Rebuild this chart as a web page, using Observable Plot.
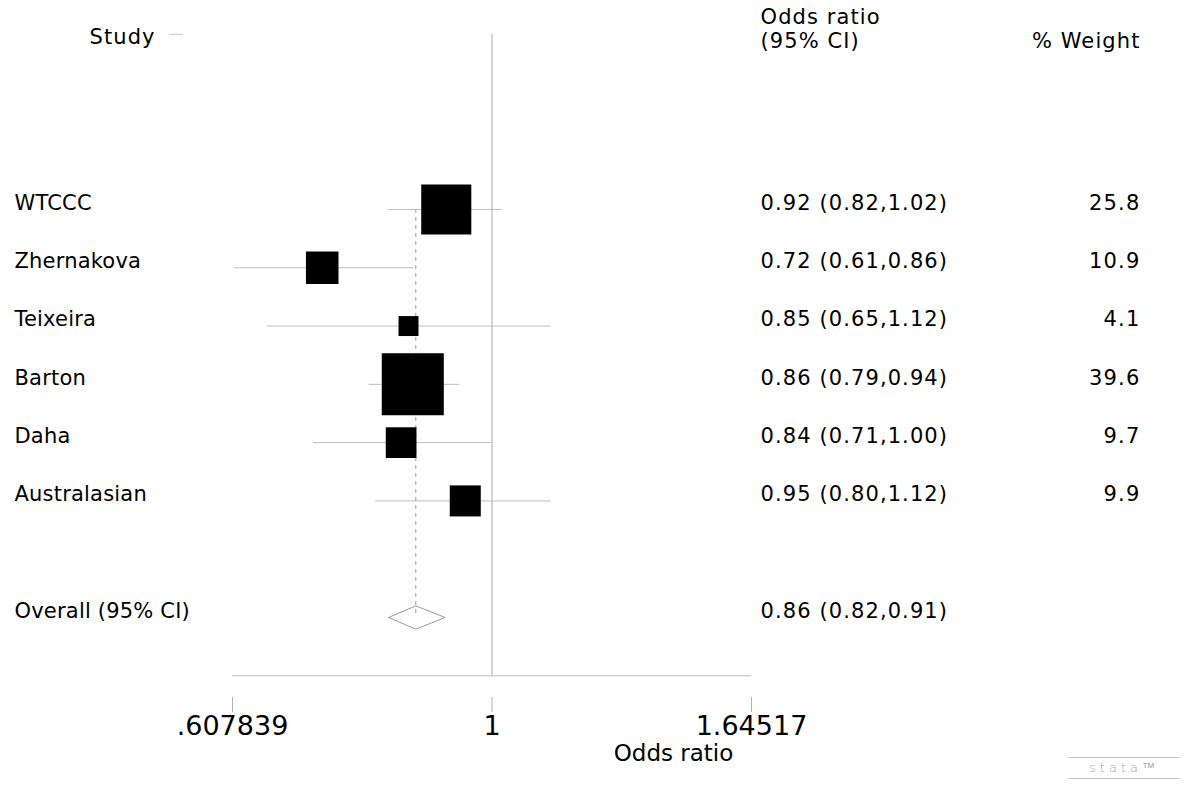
<!DOCTYPE html>
<html>
<head>
<meta charset="utf-8">
<script src="https://cdn.jsdelivr.net/npm/d3@7"></script>
<script src="https://cdn.jsdelivr.net/npm/@observablehq/plot@0.6"></script>
<style>
  html, body { margin: 0; padding: 0; background: #fff; }
  #wrap { position: relative; width: 1200px; height: 796px; font-family: "DejaVu Sans", sans-serif; }
  #logo { position: absolute; left: 1068px; top: 757px; width: 112px; height: 20px;
          border-top: 1px solid #c4c4c4; border-bottom: 1px solid #c4c4c4;
          color: #a8a8a8; font-size: 13px; line-height: 20px; text-align: center;
          letter-spacing: 4px; font-weight: 200; }
  g[aria-label="header"] text, .header text { letter-spacing: 1.1px; }
  g[aria-label="or-col"] text, .or-col text { letter-spacing: 1.1px; }
  g[aria-label="weight-col"] text, .weight-col text { letter-spacing: 1.2px; }
  g[aria-label="study-col"] text, .study-col text { letter-spacing: 0.2px; }
</style>
</head>
<body>
<div id="wrap"><div id="logo">stata™</div></div>
<script>
// ---- data ----
const studies = ["WTCCC", "Zhernakova", "Teixeira", "Barton", "Daha", "Australasian"];
const oddsRatio = [0.916, 0.722, 0.852, 0.859, 0.840, 0.950];
const ciLow  = [0.82, 0.61, 0.65, 0.79, 0.71, 0.80];
const ciHigh = [1.02, 0.86, 1.12, 0.94, 1.00, 1.12];
const weights = [25.8, 10.9, 4.1, 39.6, 9.7, 9.9];
const overallLabel = "Overall (95% CI)";
const overallOR = 0.864, overallLow = 0.82, overallHigh = 0.914;
const tickValues = [0.607839, 1, 1.64517];
const tickLabels = [".607839", "1", "1.64517"];
const xDomain = [0.607839, 1.64517];

// ---- build tables ----
const f2 = v => v.toFixed(2);
const rows = studies.map((s, i) => ({
  study: s, row: i + 1, or: oddsRatio[i], lo: ciLow[i], hi: ciHigh[i], w: weights[i],
  orText: `${f2(oddsRatio[i])} (${f2(ciLow[i])},${f2(ciHigh[i])})`,
  wText: weights[i].toFixed(1)
}));
const overallRow = studies.length + 2;
const overall = [{study: overallLabel, row: overallRow, or: overallOR, lo: overallLow, hi: overallHigh,
  orText: `${f2(overallOR)} (${f2(overallLow)},${f2(overallHigh)})`}];
const dh = 0.2; // half height of diamond in row units
const diamond = [
  {x: overallLow, y: overallRow}, {x: overallOR, y: overallRow - dh},
  {x: overallHigh, y: overallRow}, {x: overallOR, y: overallRow + dh},
  {x: overallLow, y: overallRow}
];
const headerRow = -2;
const axisRow = overallRow + 1;

const font = "DejaVu Sans, sans-serif";
const txt = {fontSize: 21, fill: "#000", lineAnchor: "middle"};
const rowDy = -6.5;

const chart = Plot.plot({
  width: 1200,
  height: 796,
  marginLeft: 232,
  marginRight: 449,
  marginTop: 34,
  marginBottom: 99,
  style: {fontFamily: font, background: "#fff", color: "#000", overflow: "visible"},
  x: {type: "log", domain: xDomain, range: [232, 751], axis: null},
  y: {domain: [headerRow, axisRow], range: [34.1, 675.3], axis: null},
  r: {type: "sqrt", domain: [0, d3.max(weights)], range: [0, 35]},
  marks: [
    // reference line at OR = 1
    Plot.ruleX([1], {y1: headerRow, y2: axisRow, stroke: "#a9a9a9", strokeWidth: 1}),
    // dashed overall line
    Plot.ruleX(overall, {x: "or", y1: 1, y2: overallRow, stroke: "#9a9a9a", strokeDasharray: "4,4", strokeWidth: 1}),
    // axis line
    Plot.ruleY([axisRow], {x1: xDomain[0], x2: xDomain[1], stroke: "#bdbdbd", strokeWidth: 1}),
    // confidence intervals
    Plot.ruleY(rows, {y: "row", x1: "lo", x2: "hi", stroke: "#bdbdbd", strokeWidth: 1}),
    // weighted squares
    Plot.dot(rows, {x: "or", y: "row", r: "w", symbol: "square", fill: "#000", stroke: null}),
    // overall diamond
    Plot.line(diamond, {x: "x", y: "y", stroke: "#9a9a9a", strokeWidth: 1, fill: "none"}),
    // x axis ticks and labels
    Plot.axisX({ticks: tickValues, tickFormat: d => tickLabels[tickValues.indexOf(d)], tickSize: 15, tickPadding: 3,
      fontSize: 27, stroke: "#b0b0b0", fill: "#000", label: null, anchor: "bottom"}),
    Plot.text(["Odds ratio"], {frameAnchor: "bottom-right", dx: -78, dy: 56, fontSize: 23, textAnchor: "middle", lineAnchor: "middle", fill: "#000"}),
    // headers
    Plot.text(["Study"], {y: () => headerRow, frameAnchor: "left", dx: -143, dy: 3, textAnchor: "start", ariaLabel: "header", className: "header", ...txt}),
    Plot.text(["—"], {y: () => headerRow, frameAnchor: "left", dx: -64, dy: 0, textAnchor: "start", fontSize: 15, fill: "#aaa", fontWeight: 200, lineAnchor: "middle"}),
    Plot.text(["Odds ratio"], {y: () => headerRow, frameAnchor: "right", dx: 9, dy: -17.8, textAnchor: "start", ariaLabel: "header", className: "header", ...txt}),
    Plot.text(["(95% CI)"], {y: () => headerRow, frameAnchor: "right", dx: 9, dy: 6.2, textAnchor: "start", ariaLabel: "header", className: "header", ...txt}),
    Plot.text(["% Weight"], {y: () => headerRow, frameAnchor: "right", dx: 389, dy: 6.2, textAnchor: "end", ariaLabel: "header", className: "header", ...txt}),
    // study labels
    Plot.text(rows.concat(overall), {text: "study", y: "row", frameAnchor: "left", dx: -218, dy: rowDy, textAnchor: "start", ariaLabel: "study-col", className: "study-col", ...txt}),
    // OR text
    Plot.text(rows.concat(overall), {text: "orText", y: "row", frameAnchor: "right", dx: 9, dy: rowDy, textAnchor: "start", ariaLabel: "or-col", className: "or-col", ...txt}),
    // weights
    Plot.text(rows, {text: "wText", y: "row", frameAnchor: "right", dx: 389, dy: rowDy, textAnchor: "end", ariaLabel: "weight-col", className: "weight-col", ...txt})
  ]
});
document.getElementById("wrap").prepend(chart);
</script>
</body>
</html>
